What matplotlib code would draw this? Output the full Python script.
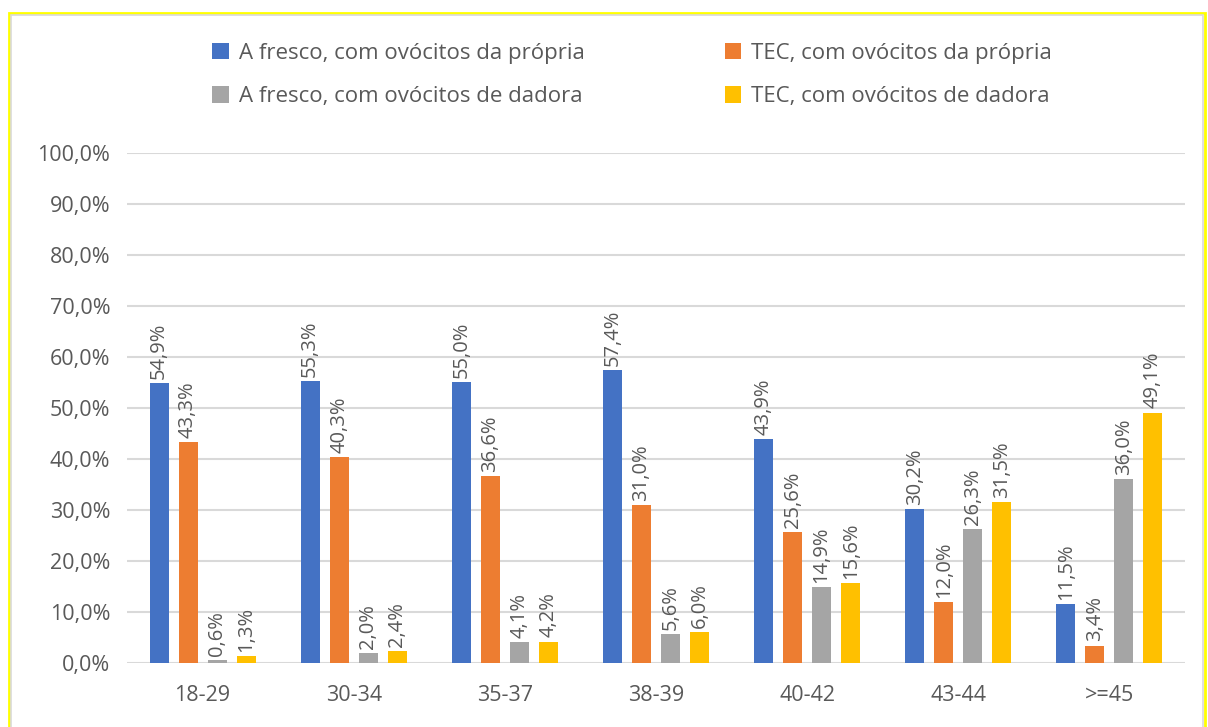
import matplotlib.pyplot as plt
import numpy as np
from matplotlib.patches import Rectangle

categories = ['18-29', '30-34', '35-37', '38-39', '40-42', '43-44', '>=45']
series_names = ['A fresco, com ovócitos da própria', 'TEC, com ovócitos da própria',
                'A fresco, com ovócitos de dadora', 'TEC, com ovócitos de dadora']
fresh_own = [54.9, 55.3, 55.0, 57.4, 43.9, 30.2, 11.5]
tec_own = [43.3, 40.3, 36.6, 31.0, 25.6, 12.0, 3.4]
fresh_donor = [0.6, 2.0, 4.1, 5.6, 14.9, 26.3, 36.0]
tec_donor = [1.3, 2.4, 4.2, 6.0, 15.6, 31.5, 49.1]
colors = ['#4472C4', '#ED7D31', '#A5A5A5', '#FFC000']

plt.rcParams['font.family'] = ['Open Sans', 'DejaVu Sans']
text_col = '#595959'

fig = plt.figure(figsize=(12.08, 7.27), dpi=100)
ax = fig.add_axes([127/1208, 1-663/727, 1058/1208, 510/727])

x = np.arange(len(categories))
pitch = 0.192
width = 0.126
all_series = [fresh_own, tec_own, fresh_donor, tec_donor]
handles = []
for i, vals in enumerate(all_series):
    xs = x + (i - 1.5) * pitch
    bars = ax.bar(xs, vals, width, color=colors[i], label=series_names[i], zorder=3)
    handles.append(bars)
    for xi, v in zip(xs, vals):
        ax.annotate('{:.1f}%'.format(v).replace('.', ','), (xi, v), xytext=(0, 3),
                    textcoords='offset points', rotation=90, ha='center', va='bottom',
                    fontsize=14.5, color=text_col)

ax.set_xlim(-0.5, len(categories) - 0.5)
ax.set_ylim(0, 100)
ax.set_yticks(np.arange(0, 101, 10))
ax.set_yticklabels(['{:.1f}%'.format(t).replace('.', ',') for t in np.arange(0, 101, 10)])
ax.set_xticks(x)
ax.set_xticklabels(categories)
ax.tick_params(axis='both', length=0, labelsize=15.5, labelcolor=text_col)
ax.tick_params(axis='x', pad=16)
ax.tick_params(axis='y', pad=12)
ax.grid(axis='y', color='#D9D9D9', linewidth=1.5, zorder=0)
for s in ax.spines.values():
    s.set_visible(False)

# legend filled row by row: blue, orange / grey, yellow
order = [0, 2, 1, 3]
fig.legend([handles[k] for k in order], [series_names[k] for k in order],
           ncol=2, loc='upper left', bbox_to_anchor=(192/1208, 1-23/727), frameon=False,
           fontsize=16, handlelength=0.75, handleheight=0.75, handletextpad=0.45,
           columnspacing=6.3, labelspacing=1.0, labelcolor=text_col)

# yellow frame round the chart
fig.patches.append(Rectangle((9/1208, -0.05), 1196/1208, 1 - 13/727 + 0.05, transform=fig.transFigure,
                             fill=False, edgecolor='#FFFF00', linewidth=2))
fig.patches.append(Rectangle((11/1208, -0.05), 1192/1208, 1 - 15/727 + 0.05, transform=fig.transFigure,
                             fill=False, edgecolor='#D9D9D9', linewidth=1.2))

plt.savefig('out.png')
